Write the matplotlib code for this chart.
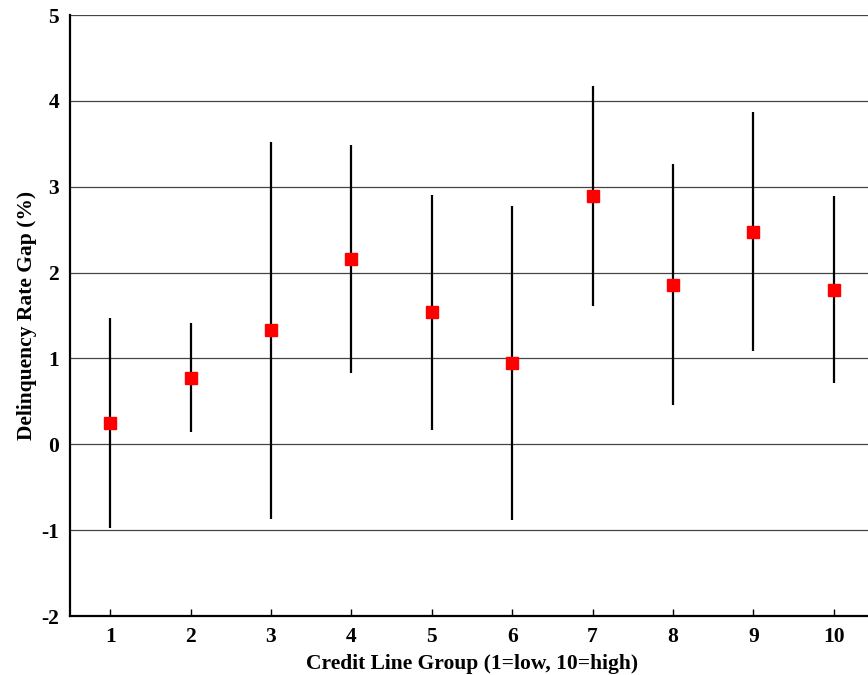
import matplotlib
matplotlib.use("Agg")
import matplotlib.pyplot as plt
import numpy as np

groups = [1, 2, 3, 4, 5, 6, 7, 8, 9, 10]
gap = [0.25, 0.77, 1.33, 2.16, 1.54, 0.95, 2.89, 1.86, 2.47, 1.80]
upper = [1.47, 1.41, 3.52, 3.49, 2.90, 2.78, 4.17, 3.26, 3.87, 2.89]
lower = [-0.97, 0.14, -0.87, 0.83, 0.17, -0.88, 1.61, 0.46, 1.09, 0.71]

plt.rcParams["font.family"] = ["Liberation Serif", "DejaVu Serif"]
plt.rcParams["font.weight"] = "bold"
plt.rcParams["axes.unicode_minus"] = False

fig = plt.figure(figsize=(8.68, 6.75), dpi=100)
ax = fig.add_axes([70 / 868, 59 / 675, 804 / 868, 601 / 675])

g = np.array(groups)
y = np.array(gap)
err = [y - np.array(lower), np.array(upper) - y]
ax.errorbar(g, y, yerr=err, fmt="none", ecolor="black", elinewidth=1.6, capsize=0, zorder=3)
ax.plot(g, y, "s", color="#ff0000", markersize=8.5, zorder=4)

ax.set_xlim(0.5, 10.5)
ax.set_ylim(-2, 5)
ax.set_xticks(groups)
ax.set_yticks(range(-2, 6))
ax.yaxis.grid(True, color="#444444", linewidth=0.9)
ax.set_axisbelow(True)

for s in ["top", "right"]:
    ax.spines[s].set_visible(False)
for s in ["left", "bottom"]:
    ax.spines[s].set_linewidth(1.6)

ax.tick_params(axis="x", direction="in", length=5, width=1, labelsize=15.5, pad=8)
ax.tick_params(axis="y", length=0, labelsize=15.5, pad=8)
for lab in ax.get_xticklabels() + ax.get_yticklabels():
    lab.set_fontweight("bold")

ax.set_xlabel("Credit Line Group (1=low, 10=high)", fontsize=15.5, fontweight="bold", labelpad=5)
ax.set_ylabel("Delinquency Rate Gap (%)", fontsize=15.5, fontweight="bold", labelpad=3)

fig.savefig("out.png", dpi=100)
